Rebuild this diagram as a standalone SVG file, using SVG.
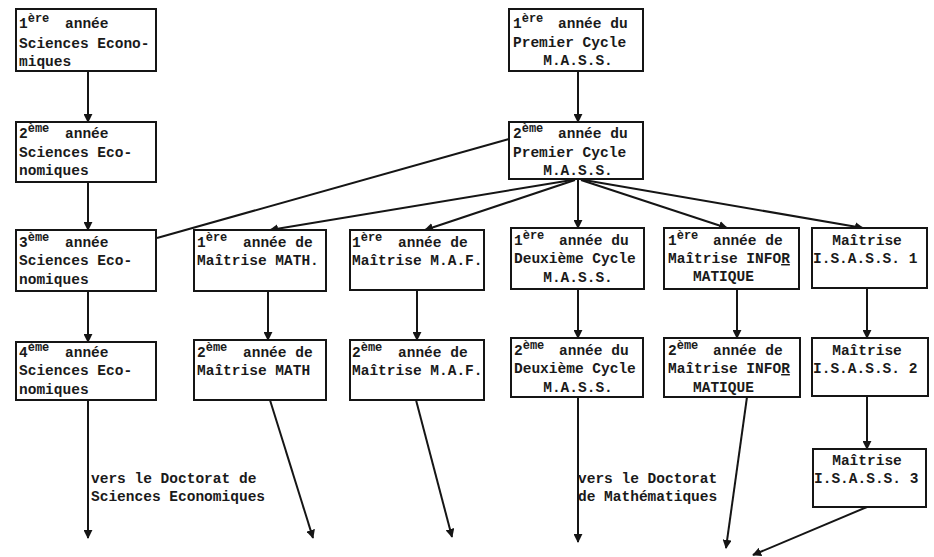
<svg xmlns="http://www.w3.org/2000/svg" width="934" height="557" viewBox="0 0 934 557">
<style>
.box{fill:#fff;stroke:#151515;stroke-width:2}
text{font-family:"Liberation Mono","DejaVu Sans Mono",monospace;font-size:14.5px;font-weight:bold;fill:#1a1a1a}
.sup{font-size:12px}
.c{text-anchor:middle}
.ln{stroke:#151515;stroke-width:2;fill:none}
.ar{stroke:#151515;stroke-width:2;fill:none;marker-end:url(#ah)}
</style>
<defs>
<marker id="ah" viewBox="0 0 10 10" refX="9" refY="5" markerWidth="9" markerHeight="9" markerUnits="userSpaceOnUse" orient="auto">
<path d="M0,0 L10,5 L0,10 z" fill="#151515"/>
</marker>
</defs>
<rect width="934" height="557" fill="#fff"/>
<g id="connectors">
<line class="ar" x1="88" y1="71" x2="88" y2="122"/>
<line class="ar" x1="88" y1="182" x2="88" y2="230"/>
<line class="ar" x1="88" y1="291" x2="88" y2="342"/>
<line class="ar" x1="88" y1="400" x2="88" y2="538"/>
<line class="ar" x1="578" y1="71" x2="578" y2="122"/>
<line class="ln" x1="509" y1="139" x2="157" y2="238"/>
<line class="ar" x1="572" y1="180" x2="270" y2="230"/>
<line class="ar" x1="575" y1="180" x2="425" y2="230"/>
<line class="ar" x1="578" y1="180" x2="578" y2="228"/>
<line class="ar" x1="581" y1="180" x2="727" y2="228"/>
<line class="ar" x1="584" y1="180" x2="863" y2="228"/>
<line class="ar" x1="268" y1="291" x2="268" y2="340"/>
<line class="ar" x1="417" y1="290" x2="417" y2="340"/>
<line class="ar" x1="578" y1="289" x2="578" y2="338"/>
<line class="ar" x1="737" y1="289" x2="737" y2="338"/>
<line class="ar" x1="867" y1="288" x2="867" y2="338"/>
<line class="ar" x1="867" y1="396" x2="867" y2="449"/>
<line class="ar" x1="270" y1="400" x2="313" y2="538"/>
<line class="ar" x1="416" y1="400" x2="452" y2="537"/>
<line class="ar" x1="578" y1="397" x2="578" y2="542"/>
<line class="ar" x1="747" y1="397" x2="726" y2="548"/>
<line class="ar" x1="867" y1="507" x2="753" y2="555"/>
</g>
<g id="se1">
<rect class="box" x="16" y="9" width="140" height="62"/>
<text x="19" y="28">1<tspan class="sup" dy="-6">ère</tspan><tspan x="65" dy="6">année</tspan></text>
<text x="19" y="48">Sciences Econo-</text>
<text x="19" y="66">miques</text>
</g>
<g id="se2">
<rect class="box" x="16" y="122" width="140" height="60"/>
<text x="19" y="138">2<tspan class="sup" dy="-6">ème</tspan><tspan x="65" dy="6">année</tspan></text>
<text x="19" y="157">Sciences Eco-</text>
<text x="19" y="175">nomiques</text>
</g>
<g id="se3">
<rect class="box" x="16" y="230" width="140" height="61"/>
<text x="19" y="247">3<tspan class="sup" dy="-6">ème</tspan><tspan x="65" dy="6">année</tspan></text>
<text x="19" y="265">Sciences Eco-</text>
<text x="19" y="284">nomiques</text>
</g>
<g id="se4">
<rect class="box" x="16" y="342" width="140" height="58"/>
<text x="19" y="357">4<tspan class="sup" dy="-6">ème</tspan><tspan x="65" dy="6">année</tspan></text>
<text x="19" y="375">Sciences Eco-</text>
<text x="19" y="394">nomiques</text>
</g>
<g id="mass1">
<rect class="box" x="509" y="9" width="134" height="62"/>
<text x="513" y="28">1<tspan class="sup" dy="-6">ère</tspan><tspan x="558" dy="6">année du</tspan></text>
<text x="513" y="47">Premier Cycle</text>
<text class="c" x="578" y="65">M.A.S.S.</text>
</g>
<g id="mass2">
<rect class="box" x="509" y="122" width="134" height="57"/>
<text x="513" y="138">2<tspan class="sup" dy="-6">ème</tspan><tspan x="558" dy="6">année du</tspan></text>
<text x="513" y="157">Premier Cycle</text>
<text class="c" x="578" y="175">M.A.S.S.</text>
</g>
<g id="math1">
<rect class="box" x="194" y="230" width="132" height="61"/>
<text x="197" y="247">1<tspan class="sup" dy="-6">ère</tspan><tspan x="243" dy="6">année de</tspan></text>
<text x="197" y="265">Maîtrise MATH.</text>
</g>
<g id="maf1">
<rect class="box" x="350" y="230" width="134" height="60"/>
<text x="352" y="247">1<tspan class="sup" dy="-6">ère</tspan><tspan x="398" dy="6">année de</tspan></text>
<text x="352" y="265">Maîtrise M.A.F.</text>
</g>
<g id="deux1">
<rect class="box" x="511" y="228" width="133" height="61"/>
<text x="514" y="245">1<tspan class="sup" dy="-6">ère</tspan><tspan x="559" dy="6">année du</tspan></text>
<text x="514" y="263">Deuxième Cycle</text>
<text class="c" x="578" y="282">M.A.S.S.</text>
</g>
<g id="info1">
<rect class="box" x="664" y="228" width="135" height="61"/>
<text x="668" y="245">1<tspan class="sup" dy="-6">ère</tspan><tspan x="713" dy="6">année de</tspan></text>
<text x="668" y="263">Maîtrise INFO<tspan text-decoration="underline">R</tspan></text>
<text x="693" y="281">MATIQUE</text>
</g>
<g id="isass1">
<rect class="box" x="812" y="228" width="115" height="60"/>
<text class="c" x="867" y="245">Maîtrise</text>
<text x="813" y="263">I.S.A.S.S. 1</text>
</g>
<g id="math2">
<rect class="box" x="194" y="340" width="132" height="60"/>
<text x="197" y="357">2<tspan class="sup" dy="-6">ème</tspan><tspan x="243" dy="6">année de</tspan></text>
<text x="197" y="375">Maîtrise MATH</text>
</g>
<g id="maf2">
<rect class="box" x="350" y="340" width="134" height="60"/>
<text x="352" y="357">2<tspan class="sup" dy="-6">ème</tspan><tspan x="398" dy="6">année de</tspan></text>
<text x="352" y="375">Maîtrise M.A.F.</text>
</g>
<g id="deux2">
<rect class="box" x="511" y="338" width="132" height="59"/>
<text x="514" y="355">2<tspan class="sup" dy="-6">ème</tspan><tspan x="559" dy="6">année du</tspan></text>
<text x="514" y="373">Deuxième Cycle</text>
<text class="c" x="578" y="392">M.A.S.S.</text>
</g>
<g id="info2">
<rect class="box" x="664" y="338" width="136" height="59"/>
<text x="668" y="355">2<tspan class="sup" dy="-6">ème</tspan><tspan x="713" dy="6">année de</tspan></text>
<text x="668" y="373">Maîtrise INFO<tspan text-decoration="underline">R</tspan></text>
<text x="693" y="392">MATIQUE</text>
</g>
<g id="isass2">
<rect class="box" x="812" y="338" width="116" height="58"/>
<text class="c" x="867" y="355">Maîtrise</text>
<text x="813" y="373">I.S.A.S.S. 2</text>
</g>
<g id="isass3">
<rect class="box" x="813" y="449" width="113" height="58"/>
<text class="c" x="867" y="465">Maîtrise</text>
<text x="814" y="483">I.S.A.S.S. 3</text>
</g>
<g id="label-eco">
<text x="91" y="483">vers le Doctorat de</text>
<text x="91" y="501">Sciences Economiques</text>
</g>
<g id="label-math">
<text x="578" y="483">vers le Doctorat</text>
<text x="578" y="501">de Mathématiques</text>
</g>
</svg>
